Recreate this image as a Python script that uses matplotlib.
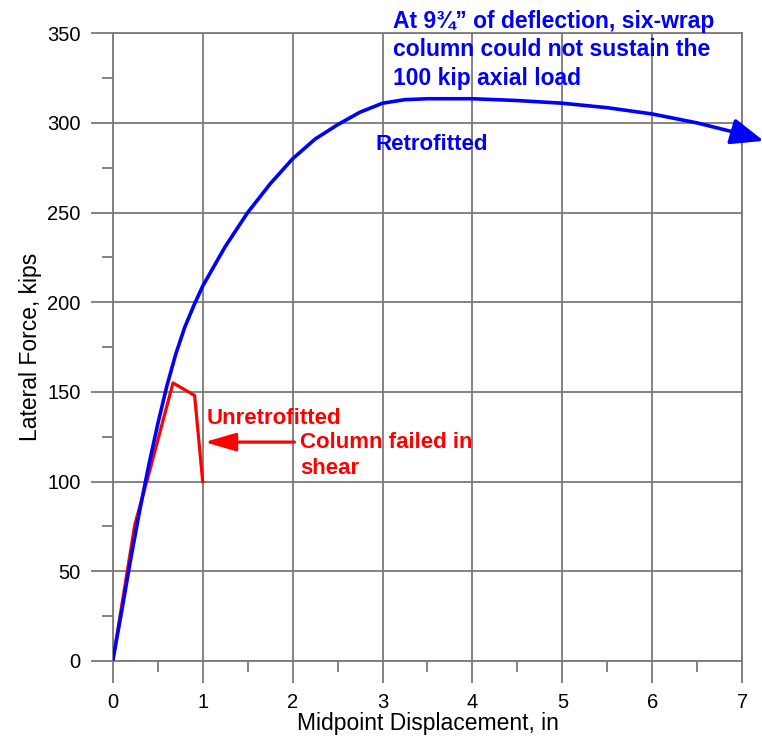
import matplotlib
matplotlib.use('agg')
import matplotlib.pyplot as plt
from matplotlib.ticker import MultipleLocator

plt.rcParams['font.family'] = ['Liberation Sans', 'DejaVu Sans']

# retrofitted (six-wrap) column
retro_x = [0, 0.1, 0.2, 0.3, 0.4, 0.5, 0.6, 0.7, 0.8, 0.9, 1.0, 1.25, 1.5, 1.75,
           2.0, 2.25, 2.5, 2.75, 3.0, 3.25, 3.5, 4.0, 4.5, 5.0, 5.5, 6.0, 6.5, 6.9]
retro_y = [0, 28, 57, 84, 109, 132, 153, 171, 186, 198, 209, 231, 250, 266,
           280, 291, 299, 306, 311, 313, 313.5, 313.5, 312.5, 311, 308.5, 305, 300, 295]
arrow_tip = (7.24, 290)

# unretrofitted column
unret_x = [0, 0.245, 0.4, 0.67, 0.91, 1.0]
unret_y = [0, 76, 104, 155, 148, 100]

grid_col = '#7a7a7a'

fig = plt.figure(figsize=(7.62, 7.40), dpi=100)
ax = fig.add_axes([0.148, 0.107, 0.826, 0.848])

ax.plot(retro_x, retro_y, color='#0000ff', lw=2.6, zorder=4, solid_capstyle='round')
ax.annotate('', xy=arrow_tip, xytext=(retro_x[-1], retro_y[-1]),
            arrowprops=dict(arrowstyle='-|>,head_length=2.0,head_width=0.8',
                            color='#0000ff', lw=2.6, shrinkA=0, shrinkB=0),
            annotation_clip=False, zorder=5)
ax.plot(unret_x, unret_y, color='#ff0000', lw=2.3, zorder=3)

# failure arrow
ax.annotate('', xy=(1.02, 122), xytext=(2.02, 122),
            arrowprops=dict(arrowstyle='-|>,head_length=1.9,head_width=0.55',
                            color='#ff0000', lw=2.3, shrinkA=0, shrinkB=0))

ax.text(1.04, 135, 'Unretrofitted', color='#ff0000', fontsize=16, fontweight='bold',
        va='center', ha='left')
ax.text(2.08, 122, 'Column failed in', color='#ff0000', fontsize=16,
        fontweight='bold', va='center', ha='left')
ax.text(2.08, 107.5, 'shear', color='#ff0000', fontsize=16,
        fontweight='bold', va='center', ha='left')
ax.text(2.92, 288, 'Retrofitted', color='#0000ff', fontsize=16, fontweight='bold',
        va='center', ha='left')
ax.text(3.12, 363, 'At 9\u00be\u201d of deflection, six-wrap\ncolumn could not sustain the\n100 kip axial load',
        color='#0000ff', fontsize=16.5, fontweight='bold', va='top', ha='left',
        linespacing=1.3, clip_on=False)

ax.set_xlim(0, 7)
ax.set_ylim(0, 350)
ax.xaxis.set_major_locator(MultipleLocator(1))
ax.xaxis.set_minor_locator(MultipleLocator(0.5))
ax.yaxis.set_major_locator(MultipleLocator(50))
ax.yaxis.set_minor_locator(MultipleLocator(25))
ax.grid(True, which='major', color=grid_col, lw=1.3)
for s in ax.spines.values():
    s.set_color(grid_col)
    s.set_linewidth(1.3)
ax.tick_params(which='major', direction='out', length=16, width=1.3, color=grid_col,
               labelsize=14.5, pad=7)
ax.tick_params(which='minor', direction='out', length=8, width=1.3, color=grid_col)

ax.set_xlabel('Midpoint Displacement, in', fontsize=16.5, labelpad=0)
ax.set_ylabel('Lateral Force, kips', fontsize=16.5, labelpad=4)

fig.savefig('out.png', dpi=100)
